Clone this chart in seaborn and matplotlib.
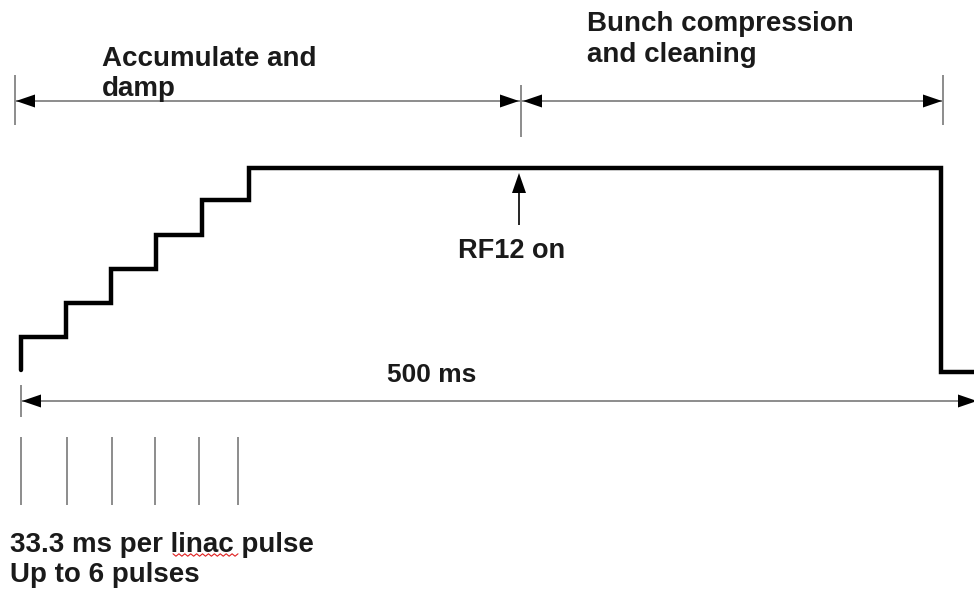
import numpy as np
import matplotlib
matplotlib.use('Agg')
import matplotlib.pyplot as plt
import seaborn as sns

# ---- diagram data (pixel-like coordinates, y grows downwards) ----
# beam intensity: stacked injection steps, flat top, then extraction
step_x = [21, 21, 66, 111, 156, 202, 249, 941, 974]
step_y = [370, 337, 303, 269, 235, 200, 168, 372, 372]

# linac pulse markers
pulse_x = [21, 67, 112, 155, 199, 238]

# phase boundaries (accumulate | compression)
phase_x = [15, 521, 943]

labels_acc = ["Accumulate and", "damp"]
labels_bunch = ["Bunch compression", "and cleaning"]
label_rf = "RF12 on"
label_total = "500 ms"
labels_bottom = ["33.3 ms per linac pulse", "Up to 6 pulses"]

sns.set_theme(style="white")
plt.rcParams['font.family'] = ['Liberation Sans', 'DejaVu Sans']

GREY = "#8c8c8c"
TXT = "#1a1a1a"

fig = plt.figure(figsize=(9.74, 5.89), dpi=100)
ax = fig.add_axes([0, 0, 1, 1])
ax.set_xlim(0, 974)
ax.set_ylim(589, 0)
ax.axis('off')


def head(x, y, direction, length=19, half=6.5, color='black'):
    # filled triangle arrow head, tip at (x, y)
    if direction == 'left':
        pts = [(x, y), (x + length, y - half), (x + length, y + half)]
    elif direction == 'right':
        pts = [(x, y), (x - length, y - half), (x - length, y + half)]
    else:  # up
        pts = [(x, y), (x - half, y + length), (x + half, y + length)]
    ax.fill([p[0] for p in pts], [p[1] for p in pts], color=color, lw=0, zorder=5)


def label(x, y, s, size=20):
    ax.text(x, y, s, fontsize=size, fontweight='bold', color=TXT,
            ha='left', va='baseline')


# main intensity curve
sns.lineplot(x=step_x, y=step_y, ax=ax, sort=False, estimator=None,
             color='black', linewidth=3.2, drawstyle='steps-post',
             solid_joinstyle='miter')

# top dimension arrows
ax.vlines([phase_x[0], phase_x[2]], 75, 125, color=GREY, lw=1.4)
ax.vlines(phase_x[1], 85, 137, color=GREY, lw=1.4)
ax.hlines(101, phase_x[0], phase_x[1], color=GREY, lw=1.4)
ax.hlines(101, phase_x[1], phase_x[2], color=GREY, lw=1.4)
head(phase_x[0] + 1, 101, 'left')
head(phase_x[1] - 2, 101, 'right')
head(phase_x[1] + 2, 101, 'left')
head(phase_x[2] - 1, 101, 'right')

label(102, 66, labels_acc[0])
label(102, 96, labels_acc[1])
label(587, 31, labels_bunch[0])
label(587, 62, labels_bunch[1])

# RF12 arrow
ax.vlines(519, 190, 225, color='black', lw=1.2)
head(519, 173, 'up', length=20, half=7)
label(458, 258, label_rf, size=19.5)

# total duration arrow
ax.vlines(21, 385, 417, color=GREY, lw=1.4)
ax.hlines(401, 21, 974, color=GREY, lw=1.4)
head(22, 401, 'left')
head(977, 401, 'right')
label(387, 382, label_total, size=19)

# linac pulses
ax.vlines(pulse_x, 437, 505, color=GREY, lw=1.4)

label(10, 552, labels_bottom[0])
label(10, 582, labels_bottom[1])
# red spell-check squiggle under "linac"
sq_x = np.linspace(173, 238, 23)
sq_y = 555 + np.where(np.arange(23) % 2 == 0, -1.2, 1.2)
ax.plot(sq_x, sq_y, color='#e02020', lw=0.8)

fig.savefig("out.png", dpi=100)
